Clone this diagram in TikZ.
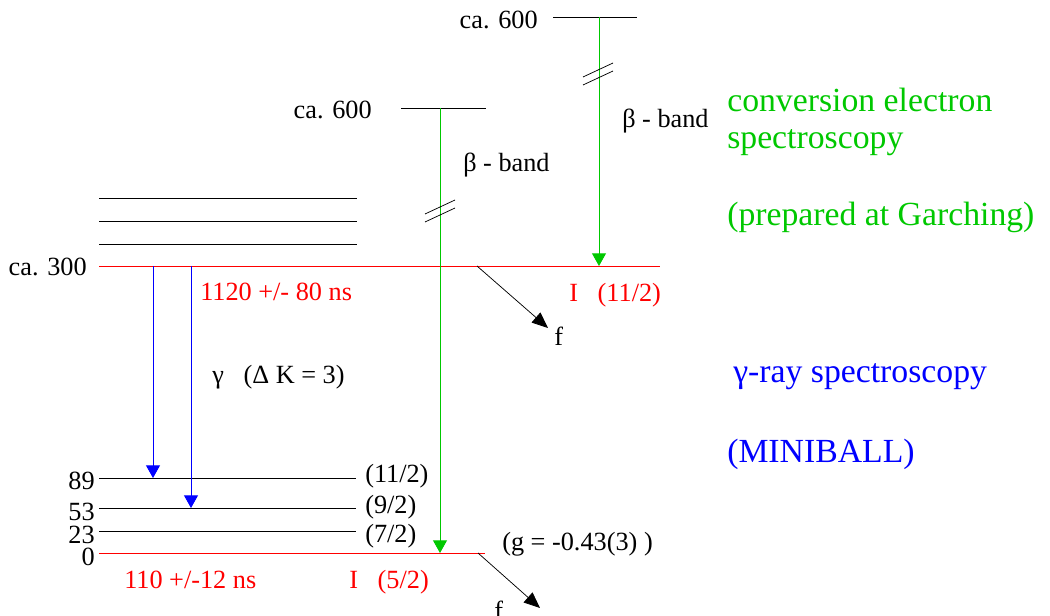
\documentclass[tikz,border=0pt]{standalone}
\usepackage{fontspec}
\setmainfont{Liberation Serif}
\usetikzlibrary{arrows.meta}
\definecolor{cred}{RGB}{255,0,0}
\definecolor{cgreen}{RGB}{0,200,0}
\definecolor{cblue}{RGB}{0,0,255}
\begin{document}
\begin{tikzpicture}[x=0.75pt,y=-0.75pt,
  lvl/.style={line width=0.65pt},
  redlvl/.style={lvl,cred},
  txt/.style={inner sep=0pt,font=\fontsize{19.7}{22}\selectfont},
  big/.style={inner sep=0pt,font=\fontsize{25.3}{28}\selectfont},
  garrow/.style={line width=0.7pt,cgreen,-{Triangle[length=9.5pt,width=10.5pt]}},
  barrow/.style={line width=0.7pt,cblue,-{Triangle[length=9.5pt,width=10.5pt]}},
  karrow/.style={line width=0.55pt,black,-{Triangle[length=12pt,width=10pt]}},
  brk/.style={line width=0.55pt,black}]
\useasboundingbox (0,0) rectangle (1050,616);
% levels
\coordinate (t1a) at (553,17); \coordinate (t1b) at (637,17);
\coordinate (t2a) at (401,108); \coordinate (t2b) at (486,108);
\draw[lvl] (t1a) -- (t1b);
\draw[lvl] (t2a) -- (t2b);
\coordinate (b1a) at (99,198); \coordinate (b1b) at (357,198);
\coordinate (b2a) at (99,221); \coordinate (b2b) at (357,221);
\coordinate (b3a) at (99,244); \coordinate (b3b) at (357,244);
\draw[lvl] (b1a) -- (b1b);
\draw[lvl] (b2a) -- (b2b);
\draw[lvl] (b3a) -- (b3b);
\coordinate (r3a) at (99,266); \coordinate (r3b) at (660,266);
\draw[redlvl] (r3a) -- (r3b);
\coordinate (l89a) at (99,478); \coordinate (l89b) at (356,478);
\coordinate (l53a) at (99,508); \coordinate (l53b) at (356,508);
\coordinate (l23a) at (99,531); \coordinate (l23b) at (356,531);
\coordinate (l0a) at (99,553); \coordinate (l0b) at (485,553);
\draw[lvl] (l89a) -- (l89b);
\draw[lvl] (l53a) -- (l53b);
\draw[lvl] (l23a) -- (l23b);
\draw[redlvl] (l0a) -- (l0b);
% green transitions
\coordinate (g1s) at (599,17); \coordinate (g1e) at (599,266);
\coordinate (g2s) at (440,108); \coordinate (g2e) at (440,553);
\draw[garrow] (g1s) -- (g1e);
\draw[garrow] (g2s) -- (g2e);
% break marks
\coordinate (k1a) at (583,77); \coordinate (k1b) at (613,63);
\coordinate (k2a) at (583,85); \coordinate (k2b) at (613,71);
\coordinate (k3a) at (425,214); \coordinate (k3b) at (455,200);
\coordinate (k4a) at (425,222); \coordinate (k4b) at (455,208);
\draw[brk] (k1a) -- (k1b);
\draw[brk] (k2a) -- (k2b);
\draw[brk] (k3a) -- (k3b);
\draw[brk] (k4a) -- (k4b);
% blue transitions
\coordinate (bl1s) at (153,266); \coordinate (bl1e) at (153,478);
\coordinate (bl2s) at (191,266); \coordinate (bl2e) at (191,508);
\draw[barrow] (bl1s) -- (bl1e);
\draw[barrow] (bl2s) -- (bl2e);
% fission arrows
\coordinate (f1s) at (477,266); \coordinate (f1e) at (548,328);
\coordinate (f2s) at (478,553); \coordinate (f2e) at (540,608);
\draw[karrow] (f1s) -- (f1e);
\draw[karrow] (f2s) -- (f2e);
% texts
\node[txt,anchor=base east] (ca600a) at (538,29) {ca. 600};
\node[txt,anchor=base east] (ca600b) at (372,119) {ca. 600};
\node[txt,anchor=base west] (betaA) at (622,128) {β - band};
\node[txt,anchor=base west] (betaB) at (463,172) {β - band};
\node[txt,anchor=base east] (ca300) at (87,276) {ca. 300};
\node[txt,anchor=base west,text=cred] (t1120) at (200,301) {1120 +/- 80 ns};
\node[txt,anchor=base west,text=cred] (I112) at (569,302) {I \ \ (11/2)};
\node[txt,anchor=base west] (fA) at (554,346) {f};
\node[txt,anchor=base west] (gam) at (212,384) {γ \ \ (Δ K = 3)};
\node[txt,anchor=base east] (n89) at (95,489) {89};
\node[txt,anchor=base east] (n53) at (95,520) {53};
\node[txt,anchor=base east] (n23) at (95,543) {23};
\node[txt,anchor=base east] (n0) at (95,565) {0};
\node[txt,anchor=base west] (s112) at (365,483) {(11/2)};
\node[txt,anchor=base west] (s92) at (365,513) {(9/2)};
\node[txt,anchor=base west] (s72) at (365,542) {(7/2)};
\node[txt,anchor=base west,text=cred] (t110) at (124,588) {110 +/-12 ns};
\node[txt,anchor=base west,text=cred] (I52) at (349,588) {I \ \ (5/2)};
\node[txt,anchor=base west] (gfac) at (502,550) {(g = -0.43(3) )};
\node[txt,anchor=base west] (fB) at (494,619) {f};
\node[big,anchor=base west,text=cgreen] (ce1) at (727,112) {conversion electron};
\node[big,anchor=base west,text=cgreen] (ce2) at (727,149) {spectroscopy};
\node[big,anchor=base west,text=cgreen] (ce3) at (727,226) {(prepared at Garching)};
\node[big,anchor=base west,text=cblue] (gr1) at (733,383) {γ-ray spectroscopy};
\node[big,anchor=base west,text=cblue] (gr2) at (727,463) {(MINIBALL)};
\end{tikzpicture}
\end{document}
